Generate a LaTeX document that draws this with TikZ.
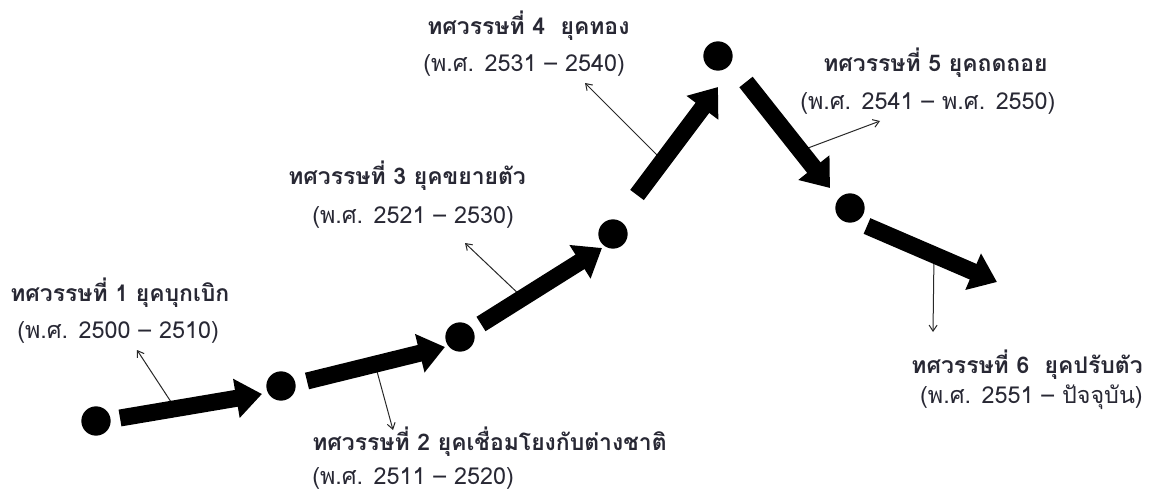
\documentclass[tikz,border=0pt]{standalone}
\usepackage{fontspec}
\newfontfamily\thaifont[Script=Thai]{Loma}
\usetikzlibrary{arrows.meta}
\definecolor{txt}{RGB}{40,40,52}
\definecolor{ptrcol}{RGB}{40,40,40}
\tikzset{
  dot/.style={circle,fill=black,inner sep=0pt,minimum size=22pt},
  big/.style={line width=12.75pt,line cap=butt,-{Triangle[length=19.5pt,width=28.5pt]}},
  ptr/.style={line width=0.75pt,draw=ptrcol,-{Straight Barb[length=4.5pt,width=6pt]}},
  ttl/.style={anchor=base west,inner sep=0pt,text=txt,font=\thaifont\bfseries\fontsize{17.2}{20}\selectfont},
  yrs/.style={anchor=base west,inner sep=0pt,text=txt,font=\thaifont\fontsize{17.5}{20}\selectfont}
}
\begin{document}
\begin{tikzpicture}[x=0.75pt,y=-0.75pt]
\useasboundingbox[fill=white] (0,0) rectangle (1150,492);
% dots
\node[dot] (d1) at (96,421) {};
\node[dot] (d2) at (281,386) {};
\node[dot] (d3) at (460,337) {};
\node[dot] (d4) at (613,234) {};
\node[dot] (d5) at (718,56) {};
\node[dot] (d6) at (850,208) {};
% labels
\node[ttl] (t1) at (10,301) {ทศวรรษที่ 1 ยุคบุกเบิก};
\node[yrs] (y1) at (17,338) {(พ.ศ. 2500 – 2510)};
\node[ttl] (t2) at (312,450) {ทศวรรษที่ 2 ยุคเชื่อมโยงกับต่างชาติ};
\node[yrs] (y2) at (312,484) {(พ.ศ. 2511 – 2520)};
\node[ttl] (t3) at (288,185) {ทศวรรษที่ 3 ยุคขยายตัว};
\node[yrs] (y3) at (312,223) {(พ.ศ. 2521 – 2530)};
\node[ttl] (t4) at (427,35) {ทศวรรษที่ 4~~ยุคทอง};
\node[yrs] (y4) at (423,72) {(พ.ศ. 2531 – 2540)};
\node[ttl] (t5) at (823,72) {ทศวรรษที่ 5 ยุคถดถอย};
\node[yrs] (y5) at (800,110) {(พ.ศ. 2541 – พ.ศ. 2550)};
\node[ttl,anchor=base east] (t6) at (1143,373) {ทศวรรษที่ 6~~ยุคปรับตัว};
\node[yrs,anchor=base east] (y6) at (1143,403) {(พ.ศ. 2551 – ปัจจุบัน)};
% arrow end points
\coordinate (a1s) at (120,418); \coordinate (a1e) at (262,394);
\coordinate (a2s) at (307,381); \coordinate (a2e) at (445,347);
\coordinate (a3s) at (481,324); \coordinate (a3e) at (602,248);
\coordinate (a4s) at (637,195); \coordinate (a4e) at (718,87);
\coordinate (a5s) at (746,82);  \coordinate (a5e) at (830,188);
\coordinate (a6s) at (867,226); \coordinate (a6e) at (997,282);
% pointer ends
\coordinate (p1) at (175,408); \coordinate (q1) at (137,350);
\coordinate (p2) at (375,364); \coordinate (q2) at (393,430);
\coordinate (p3) at (523,298); \coordinate (q3) at (465,243);
\coordinate (p4) at (663,161); \coordinate (q4) at (585,83);
\coordinate (p5) at (800,151); \coordinate (q5) at (880,121);
\coordinate (p6) at (934,255); \coordinate (q6) at (933,332);
% pointers
\draw[ptr] (p1) -- (q1);
\draw[ptr] (p2) -- (q2);
\draw[ptr] (p3) -- (q3);
\draw[ptr] (p4) -- (q4);
\draw[ptr] (p5) -- (q5);
\draw[ptr] (p6) -- (q6);
% big arrows
\draw[big] (a1s) -- (a1e);
\draw[big] (a2s) -- (a2e);
\draw[big] (a3s) -- (a3e);
\draw[big] (a4s) -- (a4e);
\draw[big] (a5s) -- (a5e);
\draw[big] (a6s) -- (a6e);
\end{tikzpicture}
\end{document}
